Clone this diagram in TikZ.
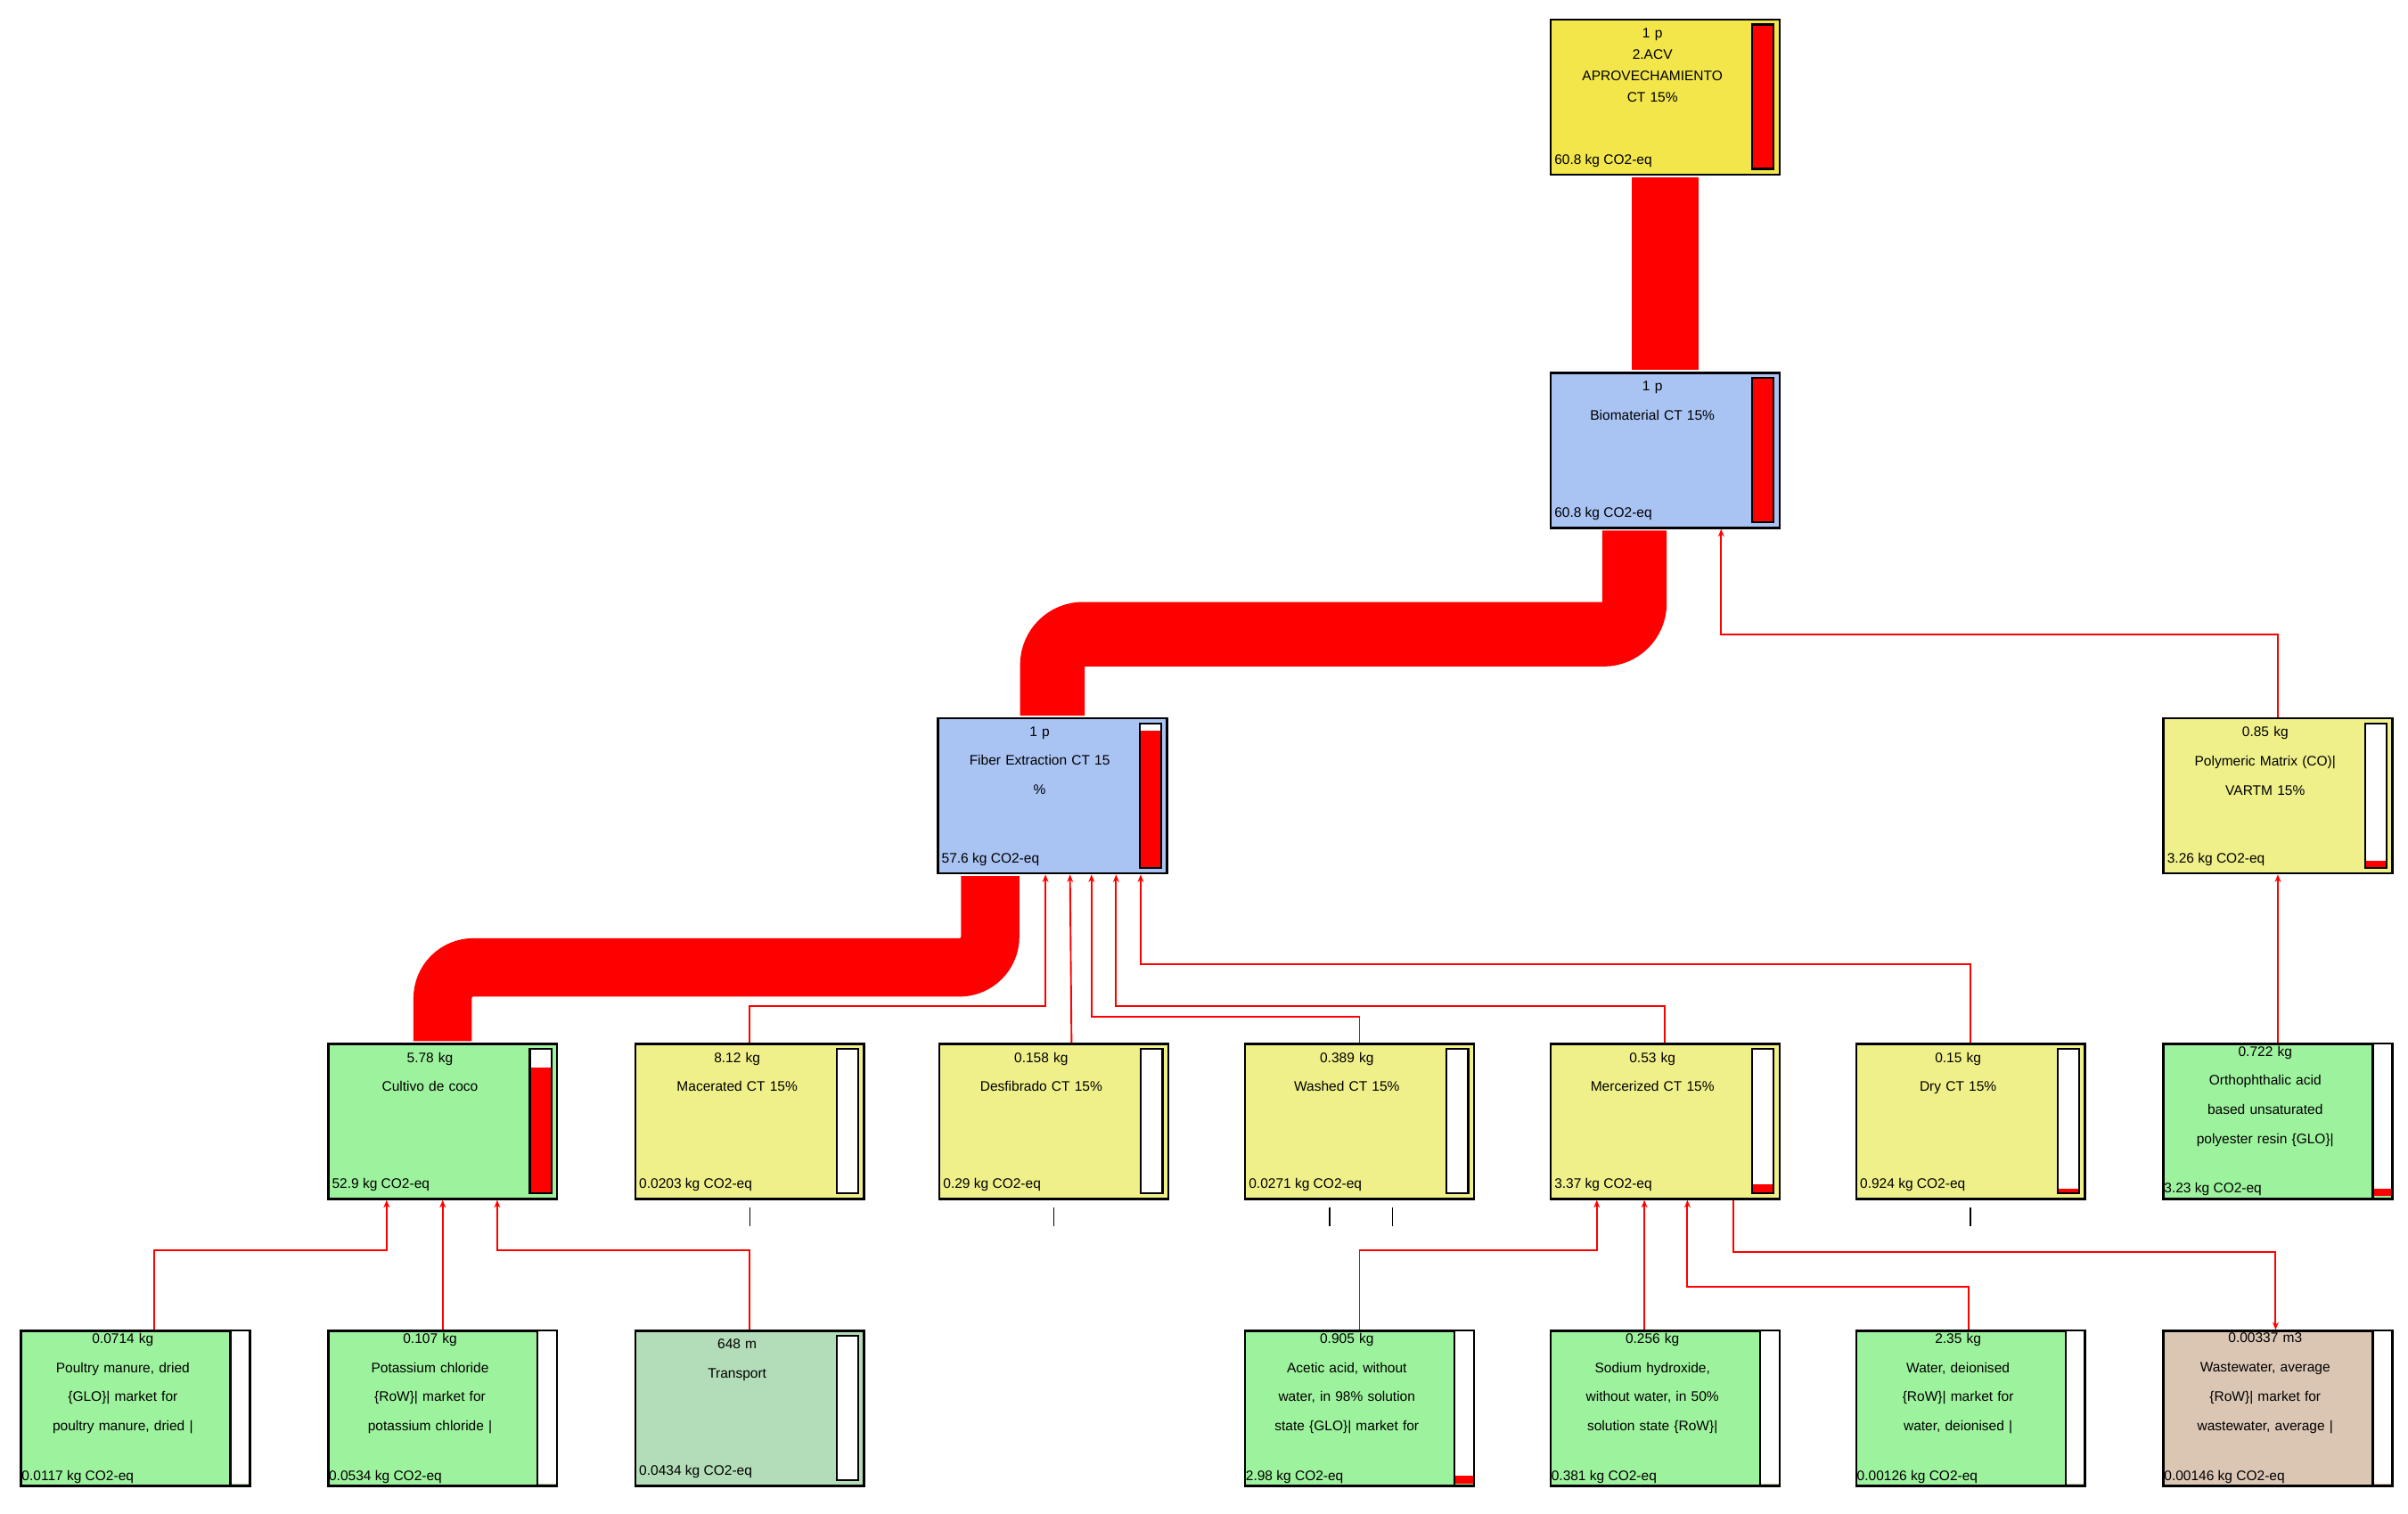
\documentclass[tikz,border=0pt]{standalone}
\usepackage{fontspec}
\setmainfont{Liberation Sans}
\usetikzlibrary{calc,arrows.meta}
\definecolor{topy}{HTML}{F2E64B}
\definecolor{bl}{HTML}{A9C3F3}
\definecolor{ye}{HTML}{F0F08A}
\definecolor{gr}{HTML}{9DF29D}
\definecolor{tr}{HTML}{B3DDB8}
\definecolor{ww}{HTML}{DBC6B4}
\definecolor{fl}{HTML}{FF0000}
\tikzset{
 box/.style={draw=black,line width=1.5pt,minimum width=149pt,minimum height=101pt,anchor=north west,inner sep=0pt},
 lab/.style={anchor=north,align=center,text width=128pt,inner sep=0pt,font=\fontsize{9}{19}\selectfont},
 bot/.style={anchor=south west,inner sep=0pt,font=\fontsize{9}{11}\selectfont},
 thick flow/.style={draw=fl,rounded corners=20pt},
 thin/.style={draw=fl,line width=1.1pt,-{Stealth[length=5pt,width=4pt]}},
 tick/.style={draw=black,line width=1pt}
}
% #1 name #2 x #3 y #4 fill #5 lines #6 bottom #7 red fraction
\newcommand\pbt[7]{%
 \node[box,fill=#4] (#1) at (#2,#3) {};
 \node[lab] (#1t) at (#2+67,#3+6) {#5};
 \node[bot] (#1b) at (#2+3,#3+97) {#6};
 \fill[white] (#2+132,#3+4) rectangle (#2+146,#3+98);
 \fill[fl] (#2+132,#3+98-94*#7) rectangle (#2+146,#3+98);
 \draw[line width=1.3pt] (#2+132,#3+4) rectangle (#2+146,#3+98);
}
\newcommand\pbb[7]{%
 \node[box,fill=#4] (#1) at (#2,#3) {};
 \node[lab] (#1t) at (#2+67,#3+2) {#5};
 \node[bot] (#1b) at (#2+1,#3+100) {#6};
 \fill[white] (#2+137,#3+1) rectangle (#2+149,#3+100);
 \fill[fl] (#2+137,#3+100-99*#7) rectangle (#2+149,#3+100);
 \draw[line width=1.3pt] (#2+137,#3) -- (#2+137,#3+101);
}
\begin{document}
\begin{tikzpicture}[x=1pt,y=-1pt]
\useasboundingbox (0,0) rectangle (1568,985.4);
% thick flows (drawn first)
\pbt{top}{1009}{12}{topy}{1 p\\[-5pt]2.ACV\\[-5pt]APROVECHAMIENTO\\[-5pt]CT 15\%}{60.8 kg CO2-eq}{1}
\pbt{bio}{1009}{242}{bl}{1 p\\Biomaterial CT 15\%}{60.8 kg CO2-eq}{1}
\pbt{fib}{610}{467}{bl}{1 p\\Fiber Extraction CT 15\\\%}{57.6 kg CO2-eq}{0.95}
\pbt{pol}{1408}{467}{ye}{0.85 kg\\Polymeric Matrix (CO)|\\VARTM 15\%}{3.26 kg CO2-eq}{0.05}
\pbt{cul}{213}{679}{gr}{5.78 kg\\Cultivo de coco}{52.9 kg CO2-eq}{0.87}
\pbt{mac}{413}{679}{ye}{8.12 kg\\Macerated CT 15\%}{0.0203 kg CO2-eq}{0}
\pbt{des}{611}{679}{ye}{0.158 kg\\Desfibrado CT 15\%}{0.29 kg CO2-eq}{0}
\pbt{was}{810}{679}{ye}{0.389 kg\\Washed CT 15\%}{0.0271 kg CO2-eq}{0}
\pbt{mer}{1009}{679}{ye}{0.53 kg\\Mercerized CT 15\%}{3.37 kg CO2-eq}{0.06}
\pbt{dry}{1208}{679}{ye}{0.15 kg\\Dry CT 15\%}{0.924 kg CO2-eq}{0.03}
\pbb{ort}{1408}{679}{gr}{0.722 kg\\Orthophthalic acid\\based unsaturated\\polyester resin \{GLO\}|}{3.23 kg CO2-eq}{0.05}
\pbb{pou}{13}{866}{gr}{0.0714 kg\\Poultry manure, dried\\\{GLO\}| market for\\poultry manure, dried |}{0.0117 kg CO2-eq}{0}
\pbb{pot}{213}{866}{gr}{0.107 kg\\Potassium chloride\\\{RoW\}| market for\\potassium chloride |}{0.0534 kg CO2-eq}{0}
\pbt{tra}{413}{866}{tr}{648 m\\Transport}{0.0434 kg CO2-eq}{0}
\pbb{ace}{810}{866}{gr}{0.905 kg\\Acetic acid, without\\water, in 98\% solution\\state \{GLO\}| market for}{2.98 kg CO2-eq}{0.05}
\pbb{sod}{1009}{866}{gr}{0.256 kg\\Sodium hydroxide,\\without water, in 50\%\\solution state \{RoW\}|}{0.381 kg CO2-eq}{0}
\pbb{wat}{1208}{866}{gr}{2.35 kg\\Water, deionised\\\{RoW\}| market for\\water, deionised |}{0.00126 kg CO2-eq}{0}
\pbb{wst}{1408}{866}{ww}{0.00337 m3\\Wastewater, average\\\{RoW\}| market for\\wastewater, average |}{0.00146 kg CO2-eq}{0}
% thick flows
\draw[thick flow,line width=44pt] ($(top.south)+(0,1)$) -- ($(bio.north)+(0,-1)$);
\draw[thick flow,line width=42pt] ($(bio.south)+(-20,1)$) |- ($(fib.north)+(0,-54)$) -- ($(fib.north)+(0,-1)$);
\draw[thick flow,line width=38pt] ($(fib.south)+(-40.5,1)$) |- ($(cul.north)+(0,-49)$) -- ($(cul.north)+(0,-1)$);
% thin flows
\draw[thin] (mac.north) -- ++(0,-24) -| ($(fib.south)+(-4.5,0)$);
\draw[thin] ($(des.north)+(11.5,0)$) -- ($(fib.south)+(11.5,0)$);
\draw[thin] (was.north) -- ++(0,-17) -| ($(fib.south)+(25.5,0)$);
\draw[thin] (mer.north) -- ++(0,-24) -| ($(fib.south)+(41.5,0)$);
\draw[thin] (dry.north) -- ++(0,-51) -| ($(fib.south)+(57.5,0)$);
\draw[thin] (pol.north) -- ++(0,-54) -| ($(bio.south)+(36.5,0)$);
\draw[thin] (ort.north) -- (pol.south);
\draw[thin] ($(pou.north)+(12,0)$) -- ++(0,-52) -| ($(cul.south)+(-36.5,0)$);
\draw[thin] (pot.north) -- (cul.south);
\draw[thin] (tra.north) -- ++(0,-52) -| ($(cul.south)+(35.5,0)$);
\draw[thin] (ace.north) -- ++(0,-52) -| ($(mer.south)+(-44.5,0)$);
\draw[thin] ($(sod.north)+(-13.5,0)$) -- ($(mer.south)+(-13.5,0)$);
\draw[thin] ($(wat.north)+(-1.5,0)$) -- ++(0,-28) -| ($(mer.south)+(14.5,0)$);
\draw[thin] ($(mer.south)+(44.5,0)$) -- ++(0,34) -| ($(wst.north)+(-1.5,0)$);
% ticks
\draw[tick] ($(mac.south)+(0,5)$) -- ++(0,12);
\draw[tick] ($(des.south)+(0,5)$) -- ++(0,12);
\draw[tick] ($(was.south)+(-19.5,5)$) -- ++(0,12);
\draw[tick] ($(was.south)+(21.5,5)$) -- ++(0,12);
\draw[tick] ($(dry.south)+(0,5)$) -- ++(0,12);
\end{tikzpicture}
\end{document}
